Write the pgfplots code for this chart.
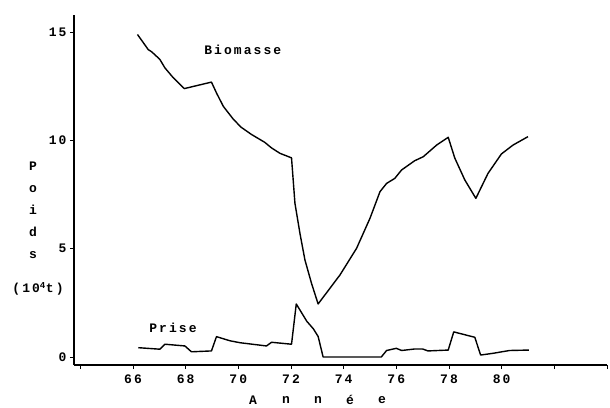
\documentclass[border=0pt]{standalone}
\usepackage{fontspec}
\usepackage{pgfplots}
\pgfplotsset{compat=1.18}
\newfontfamily\chartfont{Liberation Mono}[LetterSpace=16]
\newcommand\cf{\chartfont\bfseries\fontsize{13}{15}\selectfont}
\begin{document}
\begin{tikzpicture}
\path[use as bounding box] (-74pt,-42pt) rectangle (536pt,365pt);
\begin{axis}[
  at={(0,0)}, anchor=south west,
  scale only axis, width=533pt, height=350pt,
  xmin=63.76, xmax=84, ymin=-0.37, ymax=15.8,
  axis lines=left, axis line style={-, line width=1.5pt},
  xtick={64,66,...,84},
  xticklabels={,66,68,70,72,74,76,78,80,,},
  ytick={0,5,10,15},
  tick align=outside, major tick length=4pt,
  tick style={line width=0.9pt, black},
  ticklabel style={font=\cf},
  /pgf/number format/assume math mode=true,
  xticklabel style={yshift=-2pt},
  clip=false,
]
\addplot[black, line width=1.4pt, line join=round] coordinates {
(66.17,14.9) (66.58,14.2) (66.71,14.1) (67.02,13.75) (67.21,13.36) (67.53,12.9)
(67.95,12.4) (68.98,12.7) (69.17,12.2) (69.43,11.58) (69.8,11.0) (70.1,10.62)
(70.5,10.28) (71.0,9.92) (71.26,9.66) (71.58,9.41) (72.02,9.2) (72.15,7.1)
(72.34,5.71) (72.53,4.48) (72.78,3.40) (73.03,2.45) (73.86,3.79) (74.49,5.02)
(75.0,6.41) (75.38,7.64) (75.63,8.02) (75.94,8.25) (76.2,8.64) (76.7,9.07)
(77.02,9.25) (77.53,9.79) (77.97,10.15) (78.22,9.19) (78.6,8.18) (79.02,7.33)
(79.48,8.48) (79.99,9.38) (80.43,9.79) (81.0,10.18)
};
\addplot[black, line width=1.4pt, line join=round] coordinates {
(66.2,0.43) (67.02,0.36) (67.21,0.59) (67.97,0.51) (68.22,0.24) (68.98,0.28)
(69.17,0.94) (69.68,0.75) (70.06,0.66) (71.07,0.51) (71.26,0.68) (72.02,0.59)
(72.2,2.45) (72.4,2.05) (72.6,1.65) (72.85,1.3) (73.03,0.95) (73.22,0.0)
(75.43,0.0) (75.63,0.3) (76.0,0.4) (76.2,0.3) (76.7,0.37) (77.0,0.37)
(77.2,0.28) (77.97,0.32) (78.18,1.16) (78.98,0.91) (79.2,0.09) (79.67,0.17)
(80.3,0.3) (81.03,0.32)
};
\node[font=\cf] at (axis cs:70.17,14.2) {Biomasse};
\node[font=\cf] at (axis cs:67.52,1.34) {Prise};
\end{axis}
\foreach \ch/\yy in {P/199,o/176,i/155,d/133,s/110}{
  \node[font=\cf, inner sep=0pt] at (-41pt,\yy pt) {\ch};
}
\node[font=\cf, inner sep=0pt] at (-36pt,76pt) {(10\textsuperscript{4}t)};
\foreach \ch/\xx in {A/179,n/212,n/244,é/276,e/308}{
  \node[font=\cf, inner sep=0pt] at (\xx pt,-35pt) {\ch};
}
\end{tikzpicture}
\end{document}
